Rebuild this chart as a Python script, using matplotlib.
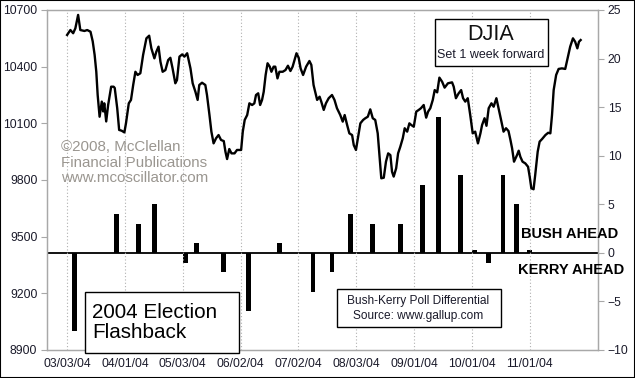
import matplotlib
matplotlib.use("Agg")
import matplotlib.pyplot as plt
from matplotlib.patches import Rectangle

plt.rcParams['font.family'] = ['Liberation Sans', 'DejaVu Sans']

# x axis: trading-day index from 03/03/04
tick_pos = [0, 21, 42, 63, 84, 105, 126, 147, 168]
tick_labels = ["03/03/04", "04/01/04", "05/03/04", "06/02/04", "07/02/04",
               "08/03/04", "09/01/04", "10/01/04", "11/01/04"]

# DJIA (set 1 week forward)
djia_x = [0.0, 1.2, 2.2, 3.0, 4.0, 4.8, 6.3, 7.3, 8.5, 9.3, 10.0, 10.6, 11.1, 11.8, 12.6, 13.1, 13.5, 14.2, 14.9,
          16.0, 16.9, 17.3, 18.2, 18.9, 19.8, 20.8, 21.4, 22.4, 23.2, 24.0, 24.8, 25.6, 26.6, 27.6, 28.8, 29.8,
          30.6, 31.7, 32.4, 33.2, 33.9, 34.7, 35.7, 36.7, 37.5, 38.3, 39.3, 39.9, 40.8, 41.8, 42.6, 43.6,
          44.8, 45.6, 46.6, 47.4, 48.0, 49.0, 50.2, 50.8, 51.7, 52.4, 53.2, 54.1, 55.0, 55.9, 56.9, 57.5, 58.1,
          58.9, 59.7, 60.8, 61.7, 63.2, 63.8, 64.5, 65.4, 66.2, 67.2, 68.0, 68.6, 69.4, 70.1, 70.8, 71.4, 72.1,
          72.8, 73.6, 74.2, 75.0, 75.6, 76.4, 77.1, 78.3, 79.3, 80.2, 81.1, 81.9, 83.3, 84.1, 84.8, 85.7, 86.8,
          88.0, 88.7, 89.5, 90.8, 91.7, 92.3, 93.2, 94.0, 95.0, 96.2, 97.1, 98.0, 99.2, 100.1, 100.8, 101.7,
          102.5, 103.5, 104.1, 104.9, 105.7, 106.5, 107.5, 108.3, 109.2, 110.1, 111.0, 111.9, 112.8, 113.5,
          114.1, 115.0, 115.8, 116.6, 117.4, 118.0, 118.6, 119.5, 120.2, 121.0, 121.9, 122.6, 123.5, 124.3,
          125.0, 125.9, 126.8, 127.7, 128.5, 129.5, 130.4, 131.1, 131.9, 132.8, 133.5, 134.4, 135.2, 136.2,
          137.1, 138.3, 139.8, 140.4, 141.2, 142.2, 143.1, 143.8, 144.6, 145.5, 146.4, 147.3, 148.2, 149.2,
          150.1, 150.7, 151.6, 152.3, 153.1, 154.1, 154.9, 155.9, 156.7, 157.6, 158.5, 159.4, 160.3, 161.0,
          161.6, 162.3, 163.4, 164.0, 164.6, 165.4, 166.4, 167.4, 168.0, 168.6, 169.4, 170.0, 170.9, 171.6,
          172.5, 173.7, 174.7, 175.5, 176.1, 176.7, 177.6, 178.5, 179.7, 180.9, 181.9, 182.7, 183.7, 184.5,
          185.3, 185.9, 186.5]
djia_y = [10568, 10594, 10577, 10603, 10674, 10594, 10589, 10594, 10585, 10534, 10462, 10373, 10250, 10135,
          10215, 10163, 10206, 10110, 10197, 10294, 10294, 10287, 10180, 10065, 10061, 10052, 10102, 10206,
          10224, 10303, 10373, 10356, 10365, 10462, 10550, 10564, 10497, 10444, 10479, 10506, 10426, 10373,
          10382, 10435, 10447, 10391, 10312, 10329, 10453, 10465, 10453, 10471,
          10391, 10312, 10267, 10224, 10303, 10315, 10303, 10250, 10144, 10056, 9994, 10021, 10038, 10012,
          10006, 9950, 9911, 9964, 9941, 9941, 9959, 9959, 10056, 10118, 10144, 10206, 10197, 10206, 10250,
          10259, 10197, 10224, 10267, 10356, 10418, 10400, 10373, 10400, 10400, 10338, 10373, 10373, 10382,
          10405, 10377, 10400, 10471, 10447, 10391, 10356, 10400, 10430, 10409,
          10303, 10224, 10241, 10215, 10171, 10206, 10233, 10250, 10224, 10180, 10144, 10109, 10144, 10091,
          10047, 10038, 9985, 9959, 10029, 10100, 10118, 10127, 10135, 10174, 10127, 10118, 10047, 9915,
          9809, 9812, 9897, 9941, 9932, 9844, 9818, 9862, 9941, 9976, 10021, 10074, 10056, 10100, 10091,
          10082, 10162, 10171, 10180, 10197, 10130, 10162, 10180, 10224, 10276, 10264,
          10342, 10320, 10289, 10312, 10317, 10294, 10233, 10259, 10276, 10233, 10215, 10233, 10144, 10047,
          10056, 9994, 10047, 10091, 10127, 10087, 10180, 10206, 10188, 10233, 10180, 10118, 10056, 10074,
          10059, 10012, 9968, 9897, 9932, 9955, 9923, 9897, 9888, 9870, 9817, 9756, 9751, 9827, 9950, 10003,
          10017, 10038, 10050, 10047, 10144, 10276, 10356, 10388, 10391, 10388, 10453, 10506, 10550, 10532,
          10497, 10532, 10541]

# Bush-Kerry poll differential (Gallup)
poll_x = [2.8, 18.1, 26.1, 31.9, 43.1, 47.1, 56.9, 66.0, 77.1, 89.3, 96.2, 103.0, 111.0, 121.2,
          129.2, 135.0, 143.0, 147.9, 153.2, 158.3, 163.3, 167.9]
poll_diff = [-8, 4, 3, 5, -1, 1, -2, -6, 1, -4, -2, 4, 3, 3, 7, 14, 8, 0.3, -1, 8, 5, 0.3]

W, H = 635, 378
fig = plt.figure(figsize=(W / 100, H / 100), dpi=100)
fig.patch.set_facecolor('white')
ax = fig.add_axes([47 / W, 1 - 350 / H, (598 - 47) / W, (350 - 10) / H])
ax2 = ax.twinx()

grid_c = '#a8a8a8'
lab_c = '#1a1a2a'
fs_tick = 8.7

# Poll bars on the right axis
ax2.bar(poll_x, poll_diff, width=1.8, color='black', zorder=3)
ax2.axhline(0, color='black', lw=1.3, zorder=2)
ax2.set_ylim(-10, 25)
ax2.set_yticks([-10, -5, 0, 5, 10, 15, 20, 25])

# DJIA line on the left axis
ax.set_zorder(ax2.get_zorder() + 1)
ax.patch.set_visible(False)
ax.plot(djia_x, djia_y, color='black', lw=1.7, zorder=4)
ax.set_ylim(8900, 10700)
ax.set_yticks([8900, 9200, 9500, 9800, 10100, 10400, 10700])
ax.set_xlim(-7.3, 192.8)
ax.set_xticks(tick_pos)
ax.set_xticklabels(tick_labels)
for x in tick_pos:
    ax.axvline(x, color='#b0b0b0', lw=0.8, ls=(0, (1, 2)), zorder=0)

for a in (ax, ax2):
    for s in a.spines.values():
        s.set_color(grid_c)
        s.set_linewidth(0.9)
ax.tick_params(axis='y', colors=grid_c, labelcolor=lab_c, labelsize=fs_tick, length=4, width=0.8, pad=3)
ax.tick_params(axis='x', length=0, labelcolor=lab_c, labelsize=fs_tick, pad=6)
ax2.tick_params(axis='y', colors=grid_c, labelcolor=lab_c, labelsize=fs_tick, length=4, width=0.8, pad=3)

# Watermark
ax.text((61 - 47) / 551, (350 - 140) / 340,
        "©2008, McClellan\nFinancial Publications\nwww.mcoscillator.com",
        transform=ax.transAxes, ha='left', va='top', fontsize=10.9, color='#9a9690',
        linespacing=1.15, zorder=1)

# DJIA box
fig.patches.append(Rectangle((434.5 / W, 1 - 65.7 / H), 113 / W, 46.4 / H, transform=fig.transFigure,
                             fill=True, fc='white', ec='black', lw=1.0, zorder=5))
fig.text(491 / W, 1 - 34 / H, "DJIA", ha='center', va='center', fontsize=15.5, color='#111111', zorder=6)
fig.text(491 / W, 1 - 54.5 / H, "Set 1 week forward", ha='center', va='center', fontsize=9,
         color='#1a1a2a', zorder=6)

# Election box
fig.patches.append(Rectangle((84.5 / W, 1 - 353.3 / H), 154.2 / W, 61 / H, transform=fig.transFigure,
                             fill=True, fc='white', ec='black', lw=1.0, zorder=5))
fig.text(92 / W, 1 - 322.5 / H, "2004 Election\nFlashback", ha='left', va='center', fontsize=14.9,
         color='black', linespacing=1.0, zorder=6)

# Poll box
fig.patches.append(Rectangle((336.5 / W, 1 - 327.3 / H), 164 / W, 38 / H, transform=fig.transFigure,
                             fill=True, fc='white', ec='black', lw=1.0, zorder=5))
fig.text(418.5 / W, 1 - 308.3 / H, "Bush-Kerry Poll Differential\nSource: www.gallup.com",
         ha='center', va='center', fontsize=8.6, color='#1a1a2a', linespacing=1.35, zorder=6)

# Bush / Kerry labels
fig.text(570 / W, 1 - 234 / H, "BUSH AHEAD", ha='center', va='center', fontsize=10.5,
         fontweight='bold', color='black', zorder=6)
fig.text(571.5 / W, 1 - 270 / H, "KERRY AHEAD", ha='center', va='center', fontsize=10.5,
         fontweight='bold', color='black', zorder=6)

# outer frame
fig.patches.append(Rectangle((0, 0), 1, 1, transform=fig.transFigure, fill=False, ec='black', lw=1.5, zorder=10))

fig.savefig("out.png", dpi=100, facecolor='white')
